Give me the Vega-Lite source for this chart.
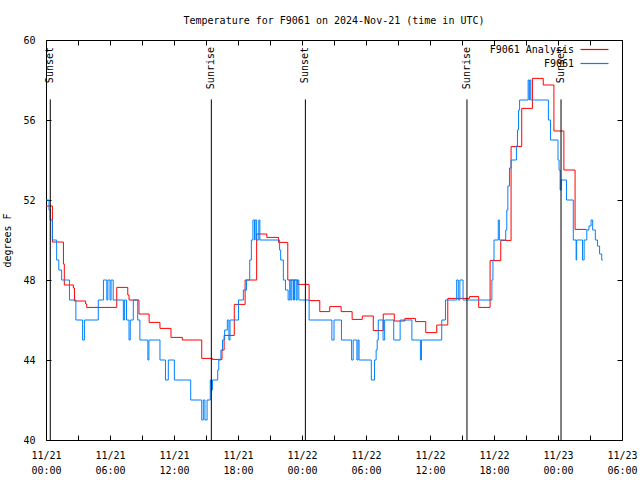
{
  "$schema": "https://vega.github.io/schema/vega-lite/v6.json",
  "autosize": "none",
  "width": 576,
  "height": 400,
  "padding": {"left": 46, "top": 40, "right": 18, "bottom": 40},
  "background": "white",
  "config": {
    "view": {"stroke": "black", "strokeWidth": 1},
    "font": "DejaVu Sans Mono",
    "axis": {"labelFont": "DejaVu Sans Mono", "labelFontSize": 10, "labelColor": "black", "titleFont": "DejaVu Sans Mono", "titleFontSize": 10, "titleFontWeight": "normal", "titleColor": "black", "domain": false, "ticks": false, "grid": true, "gridColor": "black", "gridOpacity": 1, "gridWidth": 1}
  },
  "title": {"text": "Temperature for F9061 on 2024-Nov-21 (time in UTC)", "font": "DejaVu Sans Mono", "fontSize": 10, "fontWeight": "normal", "color": "black", "anchor": "middle", "baseline": "bottom", "offset": 14, "dy": 15},
  "datasets": {
    "temps": [
      {"series": "F9061 Analysis", "time": "2024-11-21T00:00:00Z", "temp": 51.7},
      {"series": "F9061 Analysis", "time": "2024-11-21T00:36:00Z", "temp": 49.9},
      {"series": "F9061 Analysis", "time": "2024-11-21T01:38:00Z", "temp": 48.8},
      {"series": "F9061 Analysis", "time": "2024-11-21T01:43:00Z", "temp": 47.75},
      {"series": "F9061 Analysis", "time": "2024-11-21T02:34:00Z", "temp": 47.6},
      {"series": "F9061 Analysis", "time": "2024-11-21T02:40:00Z", "temp": 46.95},
      {"series": "F9061 Analysis", "time": "2024-11-21T03:43:00Z", "temp": 46.8},
      {"series": "F9061 Analysis", "time": "2024-11-21T03:49:00Z", "temp": 46.63},
      {"series": "F9061 Analysis", "time": "2024-11-21T06:38:00Z", "temp": 47.63},
      {"series": "F9061 Analysis", "time": "2024-11-21T07:40:00Z", "temp": 47.25},
      {"series": "F9061 Analysis", "time": "2024-11-21T07:47:00Z", "temp": 47.0},
      {"series": "F9061 Analysis", "time": "2024-11-21T08:43:00Z", "temp": 46.3},
      {"series": "F9061 Analysis", "time": "2024-11-21T09:40:00Z", "temp": 45.88},
      {"series": "F9061 Analysis", "time": "2024-11-21T10:41:00Z", "temp": 45.58},
      {"series": "F9061 Analysis", "time": "2024-11-21T11:43:00Z", "temp": 45.13},
      {"series": "F9061 Analysis", "time": "2024-11-21T12:47:00Z", "temp": 45.0},
      {"series": "F9061 Analysis", "time": "2024-11-21T14:36:00Z", "temp": 44.08},
      {"series": "F9061 Analysis", "time": "2024-11-21T15:36:00Z", "temp": 44.03},
      {"series": "F9061 Analysis", "time": "2024-11-21T16:30:00Z", "temp": 44.5},
      {"series": "F9061 Analysis", "time": "2024-11-21T16:42:00Z", "temp": 45.23},
      {"series": "F9061 Analysis", "time": "2024-11-21T17:39:00Z", "temp": 46.78},
      {"series": "F9061 Analysis", "time": "2024-11-21T18:40:00Z", "temp": 48.0},
      {"series": "F9061 Analysis", "time": "2024-11-21T19:45:00Z", "temp": 50.3},
      {"series": "F9061 Analysis", "time": "2024-11-21T20:42:00Z", "temp": 50.13},
      {"series": "F9061 Analysis", "time": "2024-11-21T21:48:00Z", "temp": 49.88},
      {"series": "F9061 Analysis", "time": "2024-11-21T22:40:00Z", "temp": 48.0},
      {"series": "F9061 Analysis", "time": "2024-11-21T23:36:00Z", "temp": 47.78},
      {"series": "F9061 Analysis", "time": "2024-11-22T00:40:00Z", "temp": 46.97},
      {"series": "F9061 Analysis", "time": "2024-11-22T01:40:00Z", "temp": 46.42},
      {"series": "F9061 Analysis", "time": "2024-11-22T02:36:00Z", "temp": 46.67},
      {"series": "F9061 Analysis", "time": "2024-11-22T03:40:00Z", "temp": 46.42},
      {"series": "F9061 Analysis", "time": "2024-11-22T04:42:00Z", "temp": 46.03},
      {"series": "F9061 Analysis", "time": "2024-11-22T05:39:00Z", "temp": 46.2},
      {"series": "F9061 Analysis", "time": "2024-11-22T06:41:00Z", "temp": 45.47},
      {"series": "F9061 Analysis", "time": "2024-11-22T07:37:00Z", "temp": 46.3},
      {"series": "F9061 Analysis", "time": "2024-11-22T08:39:00Z", "temp": 45.95},
      {"series": "F9061 Analysis", "time": "2024-11-22T09:39:00Z", "temp": 46.08},
      {"series": "F9061 Analysis", "time": "2024-11-22T10:39:00Z", "temp": 45.92},
      {"series": "F9061 Analysis", "time": "2024-11-22T11:36:00Z", "temp": 45.37},
      {"series": "F9061 Analysis", "time": "2024-11-22T12:38:00Z", "temp": 45.75},
      {"series": "F9061 Analysis", "time": "2024-11-22T13:40:00Z", "temp": 47.08},
      {"series": "F9061 Analysis", "time": "2024-11-22T15:42:00Z", "temp": 47.17},
      {"series": "F9061 Analysis", "time": "2024-11-22T16:34:00Z", "temp": 46.63},
      {"series": "F9061 Analysis", "time": "2024-11-22T17:38:00Z", "temp": 48.97},
      {"series": "F9061 Analysis", "time": "2024-11-22T18:38:00Z", "temp": 49.98},
      {"series": "F9061 Analysis", "time": "2024-11-22T19:36:00Z", "temp": 54.67},
      {"series": "F9061 Analysis", "time": "2024-11-22T20:36:00Z", "temp": 56.58},
      {"series": "F9061 Analysis", "time": "2024-11-22T21:36:00Z", "temp": 58.08},
      {"series": "F9061 Analysis", "time": "2024-11-22T22:37:00Z", "temp": 57.75},
      {"series": "F9061 Analysis", "time": "2024-11-22T23:37:00Z", "temp": 55.45},
      {"series": "F9061 Analysis", "time": "2024-11-23T00:33:00Z", "temp": 53.5},
      {"series": "F9061 Analysis", "time": "2024-11-23T01:36:00Z", "temp": 50.53},
      {"series": "F9061 Analysis", "time": "2024-11-23T02:41:00Z", "temp": 50.53},
      {"series": "F9061", "time": "2024-11-21T00:00:00Z", "temp": 52},
      {"series": "F9061", "time": "2024-11-21T00:17:00Z", "temp": 51.5},
      {"series": "F9061", "time": "2024-11-21T00:23:00Z", "temp": 51},
      {"series": "F9061", "time": "2024-11-21T00:36:00Z", "temp": 50},
      {"series": "F9061", "time": "2024-11-21T01:00:00Z", "temp": 49},
      {"series": "F9061", "time": "2024-11-21T01:12:00Z", "temp": 48.5},
      {"series": "F9061", "time": "2024-11-21T01:28:00Z", "temp": 48},
      {"series": "F9061", "time": "2024-11-21T02:12:00Z", "temp": 47},
      {"series": "F9061", "time": "2024-11-21T02:48:00Z", "temp": 46},
      {"series": "F9061", "time": "2024-11-21T03:26:00Z", "temp": 45},
      {"series": "F9061", "time": "2024-11-21T03:36:00Z", "temp": 46},
      {"series": "F9061", "time": "2024-11-21T04:54:00Z", "temp": 47},
      {"series": "F9061", "time": "2024-11-21T05:23:00Z", "temp": 48},
      {"series": "F9061", "time": "2024-11-21T05:42:00Z", "temp": 47},
      {"series": "F9061", "time": "2024-11-21T05:48:00Z", "temp": 48},
      {"series": "F9061", "time": "2024-11-21T06:00:00Z", "temp": 47},
      {"series": "F9061", "time": "2024-11-21T06:06:00Z", "temp": 48},
      {"series": "F9061", "time": "2024-11-21T06:18:00Z", "temp": 47},
      {"series": "F9061", "time": "2024-11-21T07:15:00Z", "temp": 46},
      {"series": "F9061", "time": "2024-11-21T07:21:00Z", "temp": 47},
      {"series": "F9061", "time": "2024-11-21T07:33:00Z", "temp": 46},
      {"series": "F9061", "time": "2024-11-21T07:47:00Z", "temp": 45},
      {"series": "F9061", "time": "2024-11-21T07:54:00Z", "temp": 46},
      {"series": "F9061", "time": "2024-11-21T08:11:00Z", "temp": 47},
      {"series": "F9061", "time": "2024-11-21T08:36:00Z", "temp": 46},
      {"series": "F9061", "time": "2024-11-21T08:48:00Z", "temp": 45},
      {"series": "F9061", "time": "2024-11-21T09:33:00Z", "temp": 44},
      {"series": "F9061", "time": "2024-11-21T09:39:00Z", "temp": 45},
      {"series": "F9061", "time": "2024-11-21T10:41:00Z", "temp": 44},
      {"series": "F9061", "time": "2024-11-21T11:12:00Z", "temp": 43},
      {"series": "F9061", "time": "2024-11-21T11:28:00Z", "temp": 44},
      {"series": "F9061", "time": "2024-11-21T12:02:00Z", "temp": 43},
      {"series": "F9061", "time": "2024-11-21T13:34:00Z", "temp": 42},
      {"series": "F9061", "time": "2024-11-21T14:36:00Z", "temp": 41},
      {"series": "F9061", "time": "2024-11-21T14:45:00Z", "temp": 42},
      {"series": "F9061", "time": "2024-11-21T14:54:00Z", "temp": 41},
      {"series": "F9061", "time": "2024-11-21T15:06:00Z", "temp": 42},
      {"series": "F9061", "time": "2024-11-21T15:24:00Z", "temp": 43},
      {"series": "F9061", "time": "2024-11-21T15:30:00Z", "temp": 42.5},
      {"series": "F9061", "time": "2024-11-21T15:36:00Z", "temp": 43},
      {"series": "F9061", "time": "2024-11-21T16:06:00Z", "temp": 43.5},
      {"series": "F9061", "time": "2024-11-21T16:12:00Z", "temp": 44},
      {"series": "F9061", "time": "2024-11-21T16:24:00Z", "temp": 44.5},
      {"series": "F9061", "time": "2024-11-21T16:33:00Z", "temp": 45},
      {"series": "F9061", "time": "2024-11-21T16:45:00Z", "temp": 45.5},
      {"series": "F9061", "time": "2024-11-21T17:00:00Z", "temp": 46},
      {"series": "F9061", "time": "2024-11-21T17:09:00Z", "temp": 45},
      {"series": "F9061", "time": "2024-11-21T17:15:00Z", "temp": 46},
      {"series": "F9061", "time": "2024-11-21T18:03:00Z", "temp": 47},
      {"series": "F9061", "time": "2024-11-21T18:30:00Z", "temp": 47.5},
      {"series": "F9061", "time": "2024-11-21T18:48:00Z", "temp": 48},
      {"series": "F9061", "time": "2024-11-21T19:06:00Z", "temp": 49},
      {"series": "F9061", "time": "2024-11-21T19:15:00Z", "temp": 50},
      {"series": "F9061", "time": "2024-11-21T19:24:00Z", "temp": 51},
      {"series": "F9061", "time": "2024-11-21T19:33:00Z", "temp": 50},
      {"series": "F9061", "time": "2024-11-21T19:36:00Z", "temp": 51},
      {"series": "F9061", "time": "2024-11-21T19:45:00Z", "temp": 50},
      {"series": "F9061", "time": "2024-11-21T19:57:00Z", "temp": 51},
      {"series": "F9061", "time": "2024-11-21T20:03:00Z", "temp": 50},
      {"series": "F9061", "time": "2024-11-21T21:54:00Z", "temp": 49.5},
      {"series": "F9061", "time": "2024-11-21T22:00:00Z", "temp": 49},
      {"series": "F9061", "time": "2024-11-21T22:15:00Z", "temp": 48},
      {"series": "F9061", "time": "2024-11-21T22:27:00Z", "temp": 47.5},
      {"series": "F9061", "time": "2024-11-21T22:42:00Z", "temp": 47},
      {"series": "F9061", "time": "2024-11-21T22:51:00Z", "temp": 48},
      {"series": "F9061", "time": "2024-11-21T22:57:00Z", "temp": 47},
      {"series": "F9061", "time": "2024-11-21T23:03:00Z", "temp": 48},
      {"series": "F9061", "time": "2024-11-21T23:12:00Z", "temp": 47},
      {"series": "F9061", "time": "2024-11-21T23:18:00Z", "temp": 48},
      {"series": "F9061", "time": "2024-11-21T23:27:00Z", "temp": 47},
      {"series": "F9061", "time": "2024-11-21T23:33:00Z", "temp": 48},
      {"series": "F9061", "time": "2024-11-21T23:42:00Z", "temp": 47},
      {"series": "F9061", "time": "2024-11-22T00:40:00Z", "temp": 46},
      {"series": "F9061", "time": "2024-11-22T02:48:00Z", "temp": 45},
      {"series": "F9061", "time": "2024-11-22T03:00:00Z", "temp": 46},
      {"series": "F9061", "time": "2024-11-22T03:42:00Z", "temp": 45},
      {"series": "F9061", "time": "2024-11-22T04:39:00Z", "temp": 44},
      {"series": "F9061", "time": "2024-11-22T04:48:00Z", "temp": 45},
      {"series": "F9061", "time": "2024-11-22T05:09:00Z", "temp": 44},
      {"series": "F9061", "time": "2024-11-22T05:15:00Z", "temp": 45},
      {"series": "F9061", "time": "2024-11-22T05:21:00Z", "temp": 44},
      {"series": "F9061", "time": "2024-11-22T06:30:00Z", "temp": 43},
      {"series": "F9061", "time": "2024-11-22T06:48:00Z", "temp": 44},
      {"series": "F9061", "time": "2024-11-22T06:57:00Z", "temp": 44.5},
      {"series": "F9061", "time": "2024-11-22T07:03:00Z", "temp": 45},
      {"series": "F9061", "time": "2024-11-22T07:09:00Z", "temp": 46},
      {"series": "F9061", "time": "2024-11-22T07:36:00Z", "temp": 45},
      {"series": "F9061", "time": "2024-11-22T07:45:00Z", "temp": 46},
      {"series": "F9061", "time": "2024-11-22T08:36:00Z", "temp": 45},
      {"series": "F9061", "time": "2024-11-22T09:12:00Z", "temp": 46},
      {"series": "F9061", "time": "2024-11-22T10:18:00Z", "temp": 45},
      {"series": "F9061", "time": "2024-11-22T11:06:00Z", "temp": 44},
      {"series": "F9061", "time": "2024-11-22T11:12:00Z", "temp": 45},
      {"series": "F9061", "time": "2024-11-22T13:06:00Z", "temp": 46},
      {"series": "F9061", "time": "2024-11-22T13:27:00Z", "temp": 47},
      {"series": "F9061", "time": "2024-11-22T14:30:00Z", "temp": 48},
      {"series": "F9061", "time": "2024-11-22T14:39:00Z", "temp": 47},
      {"series": "F9061", "time": "2024-11-22T14:48:00Z", "temp": 48},
      {"series": "F9061", "time": "2024-11-22T15:06:00Z", "temp": 47},
      {"series": "F9061", "time": "2024-11-22T17:48:00Z", "temp": 48},
      {"series": "F9061", "time": "2024-11-22T17:54:00Z", "temp": 49},
      {"series": "F9061", "time": "2024-11-22T18:00:00Z", "temp": 50},
      {"series": "F9061", "time": "2024-11-22T18:24:00Z", "temp": 51},
      {"series": "F9061", "time": "2024-11-22T18:30:00Z", "temp": 50},
      {"series": "F9061", "time": "2024-11-22T19:06:00Z", "temp": 50.5},
      {"series": "F9061", "time": "2024-11-22T19:12:00Z", "temp": 51.5},
      {"series": "F9061", "time": "2024-11-22T19:18:00Z", "temp": 52.7},
      {"series": "F9061", "time": "2024-11-22T19:27:00Z", "temp": 53.6},
      {"series": "F9061", "time": "2024-11-22T19:36:00Z", "temp": 54},
      {"series": "F9061", "time": "2024-11-22T20:06:00Z", "temp": 54.7},
      {"series": "F9061", "time": "2024-11-22T20:12:00Z", "temp": 55.5},
      {"series": "F9061", "time": "2024-11-22T20:18:00Z", "temp": 56.5},
      {"series": "F9061", "time": "2024-11-22T20:24:00Z", "temp": 57},
      {"series": "F9061", "time": "2024-11-22T21:12:00Z", "temp": 58},
      {"series": "F9061", "time": "2024-11-22T21:18:00Z", "temp": 57},
      {"series": "F9061", "time": "2024-11-22T21:21:00Z", "temp": 58},
      {"series": "F9061", "time": "2024-11-22T21:27:00Z", "temp": 57},
      {"series": "F9061", "time": "2024-11-22T23:06:00Z", "temp": 56},
      {"series": "F9061", "time": "2024-11-22T23:18:00Z", "temp": 55},
      {"series": "F9061", "time": "2024-11-23T00:00:00Z", "temp": 54},
      {"series": "F9061", "time": "2024-11-23T00:06:00Z", "temp": 53.5},
      {"series": "F9061", "time": "2024-11-23T00:12:00Z", "temp": 52.5},
      {"series": "F9061", "time": "2024-11-23T00:18:00Z", "temp": 53},
      {"series": "F9061", "time": "2024-11-23T00:48:00Z", "temp": 52},
      {"series": "F9061", "time": "2024-11-23T01:26:00Z", "temp": 50},
      {"series": "F9061", "time": "2024-11-23T01:42:00Z", "temp": 49},
      {"series": "F9061", "time": "2024-11-23T01:45:00Z", "temp": 50},
      {"series": "F9061", "time": "2024-11-23T02:18:00Z", "temp": 49},
      {"series": "F9061", "time": "2024-11-23T02:27:00Z", "temp": 50},
      {"series": "F9061", "time": "2024-11-23T02:42:00Z", "temp": 50.5},
      {"series": "F9061", "time": "2024-11-23T02:54:00Z", "temp": 50.7},
      {"series": "F9061", "time": "2024-11-23T03:06:00Z", "temp": 51},
      {"series": "F9061", "time": "2024-11-23T03:15:00Z", "temp": 50.5},
      {"series": "F9061", "time": "2024-11-23T03:30:00Z", "temp": 50},
      {"series": "F9061", "time": "2024-11-23T03:42:00Z", "temp": 49.7},
      {"series": "F9061", "time": "2024-11-23T03:54:00Z", "temp": 49.3},
      {"series": "F9061", "time": "2024-11-23T04:06:00Z", "temp": 49},
      {"series": "F9061", "time": "2024-11-23T04:12:00Z", "temp": 49}
    ],
    "events": [
      {"event": "Sunset", "time": "2024-11-21T00:24:00Z"},
      {"event": "Sunrise", "time": "2024-11-21T15:30:00Z"},
      {"event": "Sunset", "time": "2024-11-22T00:19:00Z"},
      {"event": "Sunrise", "time": "2024-11-22T15:28:00Z"},
      {"event": "Sunset", "time": "2024-11-23T00:17:00Z"}
    ]
  },
  "layer": [
    {
      "data": {"name": "temps"},
      "mark": {"type": "line", "interpolate": "step-after", "strokeWidth": 1, "clip": true},
      "encoding": {
        "x": {"field": "time", "type": "temporal",
          "scale": {"type": "utc", "domain": [{"year": 2024, "month": 11, "date": 21, "hours": 0, "utc": true}, {"year": 2024, "month": 11, "date": 23, "hours": 6, "utc": true}], "nice": false},
          "axis": {"orient": "bottom", "title": null, "grid": true, "tickCount": 18, "gridDash": [5, 390, 5], "labelPadding": 10, "labelFlush": false, "labelOverlap": false, "labelBaseline": "top", "labelLineHeight": 15,
            "labelExpr": "utchours(datum.value) % 6 === 0 ? [utcFormat(datum.value, '%m/%d'), utcFormat(datum.value, '%H:%M')] : ''"}},
        "y": {"field": "temp", "type": "quantitative",
          "scale": {"domain": [40, 60], "nice": false, "zero": false},
          "axis": {"orient": "left", "title": "degrees F", "grid": true, "values": [40, 42, 44, 46, 48, 50, 52, 54, 56, 58, 60], "tickCount": 10, "labelOverlap": false, "gridDash": [5, 566, 5], "labelPadding": 11, "titlePadding": 10}},
        "color": {"field": "series", "type": "nominal",
          "scale": {"domain": ["F9061 Analysis", "F9061"], "range": ["#ff0000", "#0080ff"]},
          "legend": {"orient": "none", "legendX": 543, "legendY": 4, "title": null, "padding": 0, "symbolType": "M-3,0H3", "symbolSize": 87, "symbolStrokeWidth": 1.2, "labelAlign": "right", "labelOffset": -26, "labelFont": "DejaVu Sans Mono", "labelFontSize": 10, "labelColor": "black", "rowPadding": 3}}
      }
    },
    {
      "data": {"name": "events"},
      "mark": {"type": "rule", "color": "black", "strokeWidth": 1},
      "encoding": {
        "x": {"field": "time", "type": "temporal",
          "axis": {"orient": "bottom", "title": null, "grid": true, "tickCount": 18, "gridDash": [5, 390, 5], "labelPadding": 10, "labelFlush": false, "labelOverlap": false, "labelBaseline": "top", "labelLineHeight": 15,
            "labelExpr": "utchours(datum.value) % 6 === 0 ? [utcFormat(datum.value, '%m/%d'), utcFormat(datum.value, '%H:%M')] : ''"}},
        "y": {"datum": 57.03, "type": "quantitative",
          "axis": {"orient": "left", "title": "degrees F", "grid": true, "values": [40, 42, 44, 46, 48, 50, 52, 54, 56, 58, 60], "tickCount": 10, "labelOverlap": false, "gridDash": [5, 566, 5], "labelPadding": 11, "titlePadding": 10}},
        "y2": {"datum": 40}
      }
    },
    {
      "data": {"name": "events"},
      "mark": {"type": "text", "angle": 270, "align": "right", "baseline": "middle", "font": "DejaVu Sans Mono", "fontSize": 10, "color": "black"},
      "encoding": {
        "x": {"field": "time", "type": "temporal",
          "axis": {"orient": "bottom", "title": null, "grid": true, "tickCount": 18, "gridDash": [5, 390, 5], "labelPadding": 10, "labelFlush": false, "labelOverlap": false, "labelBaseline": "top", "labelLineHeight": 15,
            "labelExpr": "utchours(datum.value) % 6 === 0 ? [utcFormat(datum.value, '%m/%d'), utcFormat(datum.value, '%H:%M')] : ''"}},
        "y": {"datum": 59.65, "type": "quantitative",
          "axis": {"orient": "left", "title": "degrees F", "grid": true, "values": [40, 42, 44, 46, 48, 50, 52, 54, 56, 58, 60], "tickCount": 10, "labelOverlap": false, "gridDash": [5, 566, 5], "labelPadding": 11, "titlePadding": 10}},
        "text": {"field": "event"}
      }
    }
  ]
}
